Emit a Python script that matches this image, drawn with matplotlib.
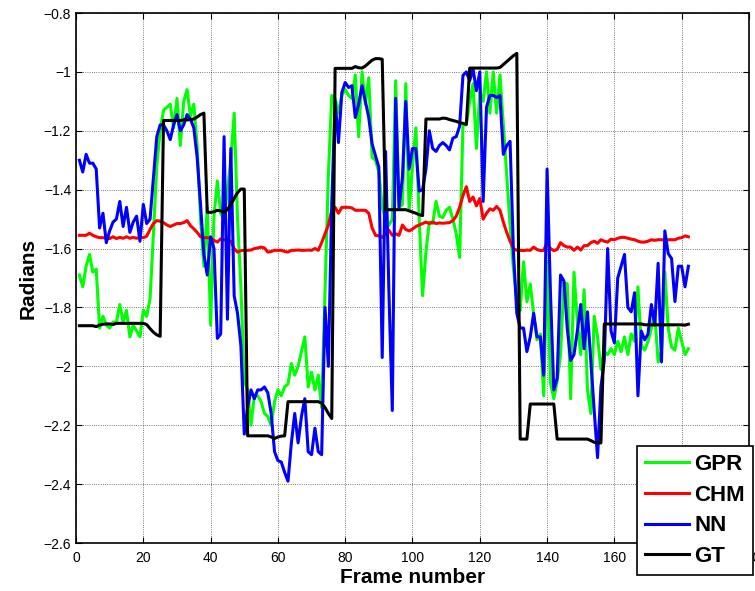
import matplotlib.pyplot as plt
import numpy as np

plt.rcParams['font.family'] = ['Liberation Sans', 'DejaVu Sans']

# per-frame angle estimates (radians), frames 1..182
gpr = [-1.69, -1.73, -1.66, -1.62, -1.68, -1.67, -1.87, -1.83, -1.86, -1.87,
       -1.85, -1.85, -1.79, -1.85, -1.81, -1.90, -1.86, -1.88, -1.90, -1.81,
       -1.83, -1.77, -1.55, -1.32, -1.20, -1.13, -1.12, -1.11, -1.19, -1.09,
       -1.25, -1.10, -1.06, -1.15, -1.11, -1.25, -1.50, -1.66, -1.46, -1.86,
       -1.49, -1.37, -1.48, -1.50, -1.40, -1.30, -1.14, -1.50, -1.73, -2.05,
       -2.08, -2.20, -2.10, -2.10, -2.12, -2.16, -2.17, -2.20, -2.12, -2.08,
       -2.10, -2.07, -2.06, -1.99, -2.03, -2.00, -1.95, -1.90, -2.07, -2.02,
       -2.08, -2.03, -2.14, -1.75, -1.35, -1.08, -1.09, -1.14, -1.08, -1.06,
       -1.08, -1.09, -1.01, -1.22, -1.00, -1.11, -1.02, -1.29, -1.30, -1.34,
       -1.46, -1.50, -1.52, -1.50, -1.03, -1.46, -1.45, -1.04, -1.47, -1.32,
       -1.19, -1.50, -1.76, -1.61, -1.51, -1.515, -1.44, -1.49, -1.495, -1.47,
       -1.46, -1.50, -1.55, -1.63, -1.18, -1.18, -1.10, -1.04, -1.26, -1.07,
       -1.10, -1.00, -1.14, -1.00, -1.14, -1.01, -1.18, -1.35, -1.52, -1.67,
       -1.77, -1.81, -1.645, -1.78, -1.72, -1.82, -1.91, -1.89, -2.10, -1.645,
       -2.055, -2.11, -2.05, -1.96, -1.716, -1.72, -2.11, -1.68, -1.85, -1.96,
       -1.74, -2.08, -2.16, -1.83, -1.90, -2.01, -1.95, -1.96, -1.94, -1.96,
       -1.915, -1.95, -1.90, -1.96, -1.89, -1.915, -1.73, -1.93, -1.945, -1.915,
       -1.87, -1.82, -1.985, -1.95, -1.68, -1.87, -1.935, -1.945, -1.87, -1.915,
       -1.96, -1.94]

chm = [-1.555, -1.555, -1.555, -1.548, -1.555, -1.56, -1.563, -1.563, -1.565, -1.566,
       -1.56, -1.566, -1.562, -1.565, -1.56, -1.565, -1.562, -1.565, -1.562, -1.563,
       -1.558, -1.535, -1.515, -1.505, -1.507, -1.512, -1.52, -1.525, -1.52, -1.515,
       -1.515, -1.512, -1.505, -1.522, -1.533, -1.545, -1.56, -1.563, -1.563, -1.565,
       -1.572, -1.578, -1.567, -1.57, -1.572, -1.575, -1.60, -1.612, -1.607, -1.606,
       -1.606, -1.605, -1.60, -1.598, -1.595, -1.598, -1.612, -1.61, -1.606, -1.606,
       -1.606, -1.61, -1.612, -1.606, -1.606, -1.605, -1.606, -1.606, -1.605, -1.606,
       -1.60, -1.606, -1.58, -1.55, -1.52, -1.47, -1.46, -1.48, -1.46, -1.46,
       -1.46, -1.462, -1.47, -1.47, -1.47, -1.47, -1.48, -1.53, -1.555, -1.557,
       -1.562, -1.55, -1.538, -1.555, -1.55, -1.555, -1.52, -1.535, -1.54, -1.534,
       -1.525, -1.52, -1.515, -1.51, -1.515, -1.51, -1.515, -1.513, -1.514, -1.513,
       -1.512, -1.505, -1.49, -1.46, -1.42, -1.39, -1.44, -1.425, -1.455, -1.43,
       -1.50, -1.48, -1.465, -1.47, -1.457, -1.47, -1.51, -1.545, -1.575, -1.60,
       -1.606, -1.606, -1.607, -1.605, -1.606, -1.595, -1.603, -1.607, -1.606, -1.58,
       -1.60, -1.607, -1.603, -1.58, -1.59, -1.595, -1.595, -1.606, -1.595, -1.605,
       -1.59, -1.59, -1.58, -1.575, -1.582, -1.57, -1.575, -1.578, -1.568, -1.57,
       -1.565, -1.562, -1.562, -1.565, -1.568, -1.57, -1.575, -1.578, -1.578, -1.575,
       -1.57, -1.572, -1.57, -1.57, -1.572, -1.57, -1.57, -1.57, -1.565, -1.563,
       -1.557, -1.56]

nn = [-1.30, -1.34, -1.28, -1.31, -1.31, -1.33, -1.53, -1.48, -1.58, -1.54,
      -1.51, -1.50, -1.44, -1.525, -1.46, -1.545, -1.51, -1.49, -1.575, -1.45,
      -1.515, -1.50, -1.36, -1.22, -1.18, -1.18, -1.20, -1.23, -1.18, -1.145,
      -1.20, -1.18, -1.145, -1.16, -1.19, -1.29, -1.45, -1.62, -1.69, -1.56,
      -1.60, -1.905, -1.89, -1.22, -1.84, -1.26, -1.76, -1.82, -1.93, -2.23,
      -2.14, -2.08, -2.11, -2.08, -2.08, -2.07, -2.09, -2.16, -2.29, -2.32,
      -2.325, -2.36, -2.39, -2.26, -2.16, -2.26, -2.17, -2.11, -2.29, -2.30,
      -2.21, -2.29, -2.30, -1.80, -2.00, -1.45, -1.10, -1.24, -1.07, -1.036,
      -1.053, -1.047, -1.155, -1.11, -1.047, -1.10, -1.155, -1.245, -1.284, -1.324,
      -1.97, -1.27, -1.75, -2.15, -1.09, -1.46, -1.36, -1.10, -1.33, -1.26,
      -1.26, -1.405, -1.40, -1.33, -1.20, -1.26, -1.27, -1.25, -1.24, -1.25,
      -1.265, -1.225, -1.22, -1.185, -1.012, -1.00, -1.03, -0.99, -1.064, -1.00,
      -1.44, -1.12, -1.08, -1.08, -1.087, -1.08, -1.28, -1.25, -1.236, -1.61,
      -1.82, -1.87, -1.87, -1.95, -1.90, -1.82, -1.90, -1.90, -2.03, -1.33,
      -1.75, -2.08, -2.04, -1.69, -1.71, -1.87, -1.98, -1.96, -1.88, -1.79,
      -1.94, -1.815, -1.985, -2.15, -2.31, -2.07, -1.98, -1.60, -1.88, -1.92,
      -1.70, -1.66, -1.62, -1.80, -1.815, -1.75, -2.10, -1.88, -1.91, -1.89,
      -1.79, -1.86, -1.65, -1.985, -1.54, -1.617, -1.634, -1.78, -1.66, -1.66,
      -1.73, -1.66]

gt = ([-1.862] * 5 + [-1.865, -1.86, -1.857, -1.856, -1.856, -1.858] + [-1.854] * 9
      + [-1.858, -1.872, -1.884, -1.893, -1.898] + [-1.165] * 6
      + [-1.163, -1.163, -1.162, -1.16, -1.153, -1.145, -1.14]
      + [-1.477, -1.477, -1.475, -1.47, -1.472, -1.476, -1.468, -1.45, -1.43, -1.41, -1.398, -1.398]
      + [-2.236] * 7 + [-2.24, -2.245, -2.24, -2.237, -2.236]
      + [-2.12] * 10 + [-2.125, -2.14, -2.16, -2.177]
      + [-0.988] * 6 + [-0.982, -0.986, -0.987, -0.98, -0.97, -0.96, -0.955, -0.955, -0.957]
      + [-1.468] * 7 + [-1.472, -1.476, -1.48, -1.485, -1.488]
      + [-1.16] * 5 + [-1.157, -1.158, -1.162, -1.165, -1.168, -1.172, -1.175, -1.178]
      + [-0.987] * 9 + [-0.985, -0.975, -0.965, -0.955, -0.945, -0.937]
      + [-2.247] * 3 + [-2.128] * 8 + [-2.247] * 10 + [-2.252, -2.258, -2.26, -2.26]
      + [-1.856] * 12 + [-1.859] * 12 + [-1.86, -1.857])

ytick_labels = ['\u22122.6', '\u22122.4', '\u22122.2', '\u22122', '\u22121.8',
                '\u22121.6', '\u22121.4', '\u22121.2', '\u22121', '\u22120.8']

frames = np.arange(1, len(gt) + 1)

fig = plt.figure(figsize=(7.55, 5.91), dpi=100)
ax = fig.add_axes([0.1007, 0.0812, 0.8913, 0.8968])

ax.plot(frames, gpr, color=(0, 1, 0), lw=2.2, label='GPR')
ax.plot(frames, chm, color=(1, 0, 0), lw=2.2, label='CHM')
ax.plot(frames, nn, color=(0, 0, 1), lw=2.2, label='NN')
ax.plot(frames, gt, color='black', lw=2.2, label='GT')

ax.set_xlim(0, 200)
ax.set_ylim(-2.6, -0.8)
ax.set_xticks(np.arange(0, 201, 20))
ax.set_yticks(np.arange(-2.6, -0.79, 0.2))
ax.set_yticklabels(ytick_labels)
ax.grid(True, linestyle=':', color='black', linewidth=0.6, alpha=0.7)
ax.tick_params(direction='in', top=True, right=True, length=4, labelsize=10)
ax.tick_params(axis='x', pad=6)
for sp in ax.spines.values():
    sp.set_linewidth(1.2)

ax.set_xlabel('Frame number', fontsize=15, fontweight='bold', labelpad=2)
ax.set_ylabel('Radians', fontsize=15, fontweight='bold', labelpad=4)

leg = ax.legend(loc='lower right', bbox_to_anchor=(753 / 755, 1 - 575 / 591),
                bbox_transform=fig.transFigure, prop={'weight': 'bold', 'size': 16},
                fancybox=False, framealpha=1, edgecolor='black', borderaxespad=0,
                handlelength=2.0, handletextpad=0.25, labelspacing=0.44, borderpad=0.35)
leg.get_frame().set_linewidth(1.2)

fig.savefig('out.png', dpi=100)
